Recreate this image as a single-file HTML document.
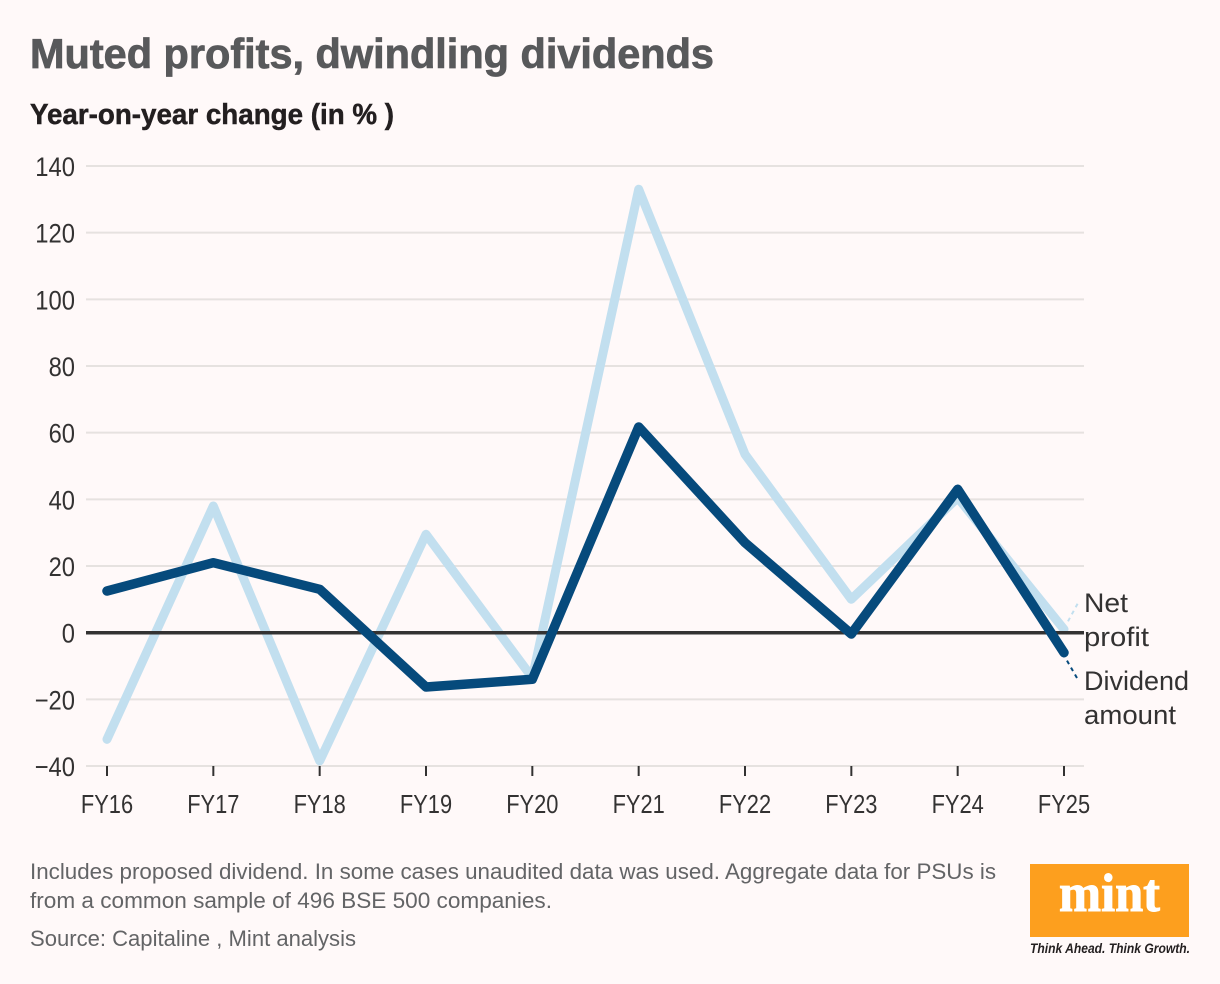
<!DOCTYPE html>
<html>
<head>
<meta charset="utf-8">
<title>Muted profits, dwindling dividends</title>
<style>
html,body{margin:0;padding:0;background:#fff9f9;}
body{width:1220px;height:984px;overflow:hidden;}
svg{display:block;}
text{font-family:"Liberation Sans",sans-serif;}
</style>
</head>
<body>
<svg id="chart" xmlns="http://www.w3.org/2000/svg" width="1220" height="984" viewBox="0 0 1220 984">
  <rect x="0" y="0" width="1220" height="984" fill="#fff9f9"/>
  <text x="30" y="68" font-size="42" font-weight="700" fill="#58595b" stroke="#58595b" stroke-width="0.8" textLength="684" lengthAdjust="spacingAndGlyphs">Muted profits, dwindling dividends</text>
  <text x="30" y="124" font-size="29" font-weight="700" fill="#231f20" stroke="#231f20" stroke-width="0.5" textLength="364" lengthAdjust="spacingAndGlyphs">Year-on-year change (in % )</text>
  <g id="grid"></g>
  <g id="yaxis"></g>
  <g id="xaxis"></g>
  <g id="series"></g>
  <line x1="86" y1="632.7" x2="1084" y2="632.7" stroke="#333232" stroke-width="3.5"/>
  <g id="series-top"></g>
  <text x="1084" y="612" font-size="27" fill="#333232" textLength="44" lengthAdjust="spacingAndGlyphs">Net</text>
  <text x="1084" y="646" font-size="27" fill="#333232" textLength="65" lengthAdjust="spacingAndGlyphs">profit</text>
  <text x="1084" y="690" font-size="27" fill="#333232" textLength="105" lengthAdjust="spacingAndGlyphs">Dividend</text>
  <text x="1084" y="724" font-size="27" fill="#333232" textLength="92" lengthAdjust="spacingAndGlyphs">amount</text>
  <text x="30" y="879" font-size="22" fill="#636466" textLength="966" lengthAdjust="spacingAndGlyphs">Includes proposed dividend. In some cases unaudited data was used. Aggregate data for PSUs is</text>
  <text x="30" y="908" font-size="22" fill="#636466" textLength="522" lengthAdjust="spacingAndGlyphs">from a common sample of 496 BSE 500 companies.</text>
  <text x="30" y="946" font-size="22" fill="#636466" textLength="326" lengthAdjust="spacingAndGlyphs">Source: Capitaline , Mint analysis</text>
  <g>
    <rect x="1030" y="864" width="159" height="73" fill="#fd9f1e"/>
    <text x="1059" y="911" font-size="54" font-weight="700" fill="#ffffff" stroke="#ffffff" stroke-width="1" style="font-family:'Liberation Serif',serif" textLength="101" lengthAdjust="spacingAndGlyphs">mint</text>
    <text x="1030" y="953" font-size="13.5" font-weight="700" font-style="italic" fill="#231f20" textLength="160" lengthAdjust="spacingAndGlyphs">Think Ahead. Think Growth.</text>
  </g>
</svg>
<script>
const categories = ["FY16","FY17","FY18","FY19","FY20","FY21","FY22","FY23","FY24","FY25"];
const netProfit = [-32, 38, -38.5, 29.5, -13.5, 133, 53.5, 10, 40.5, 1];
const dividendAmount = [12.5, 21, 13, -16.3, -14, 61.7, 27, -0.4, 43, -6];
const yTicks = [140, 120, 100, 80, 60, 40, 20, 0, -20, -40];

const NS = "http://www.w3.org/2000/svg";
function xScale(i){ return 107 + i * (1064 - 107) / (categories.length - 1); }
function yScale(v){ return 766 - (v + 40) * (766 - 166) / 180; }
function make(tag, attrs, parent){
  const el = document.createElementNS(NS, tag);
  for (const k in attrs) el.setAttribute(k, attrs[k]);
  parent.appendChild(el);
  return el;
}
function squeeze(el, factor){
  el.setAttribute("textLength", (el.getComputedTextLength() * factor).toFixed(1));
  el.setAttribute("lengthAdjust", "spacingAndGlyphs");
}
const grid = document.getElementById("grid");
const yaxis = document.getElementById("yaxis");
const xaxis = document.getElementById("xaxis");
const seriesG = document.getElementById("series");
const topG = document.getElementById("series-top");

yTicks.forEach(function(t){
  const y = yScale(t);
  if (t !== 0) {
    const ln = make("line", {x1:86, x2:1084, y1:y, y2:y, stroke:"#e6e2e0", "stroke-width":2}, grid);
    
    
  }
  const tx = make("text", {x:75, y:y + 10, "text-anchor":"end", "font-size":27, fill:"#333232"}, yaxis);
  
  
  tx.textContent = t < 0 ? "\u2212" + Math.abs(t) : String(t);
  squeeze(tx, 0.88);
});

categories.forEach(function(c, i){
  const x = xScale(i);
  const tk = make("line", {x1:x, x2:x, y1:766, y2:776, stroke:"#333232", "stroke-width":2}, xaxis);
  
  
  const tx = make("text", {x:x, y:813, "text-anchor":"middle", "font-size":26, fill:"#333232"}, xaxis);
  
  
  tx.textContent = c;
  squeeze(tx, 0.84);
});

function linePoints(values){
  return values.map(function(v, i){ return xScale(i).toFixed(1) + "," + yScale(v).toFixed(1); }).join(" ");
}
const netLine = make("polyline", {points:linePoints(netProfit), fill:"none", stroke:"#c2dfef", "stroke-width":9, "stroke-linejoin":"round", "stroke-linecap":"round"}, seriesG);



const divLine = make("polyline", {points:linePoints(dividendAmount), fill:"none", stroke:"#064a7c", "stroke-width":9.5, "stroke-linejoin":"round", "stroke-linecap":"round"}, topG);



const lastX = xScale(categories.length - 1);
const netLeader = make("line", {x1:lastX + 4, y1:yScale(netProfit[9]) - 8, x2:1078, y2:603, stroke:"#c2dfef", "stroke-width":2, "stroke-dasharray":"4 4"}, topG);



const divLeader = make("line", {x1:lastX + 3, y1:yScale(dividendAmount[9]) + 8, x2:1077, y2:678, stroke:"#064a7c", "stroke-width":2, "stroke-dasharray":"4 4"}, topG);


</script>
</body>
</html>
